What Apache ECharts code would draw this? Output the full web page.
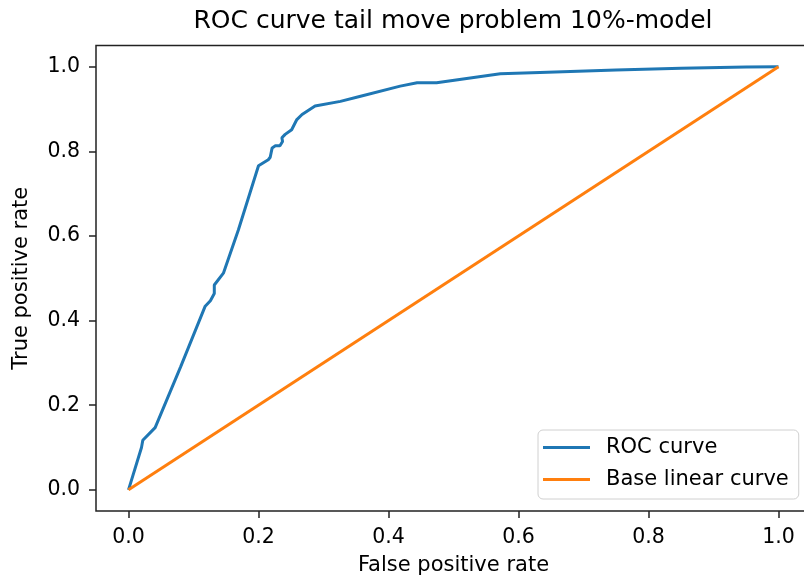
<!DOCTYPE html>
<html>
<head>
<meta charset="utf-8">
<script src="https://cdn.jsdelivr.net/npm/echarts@6/dist/echarts.min.js"></script>
<style>
  html, body { margin: 0; padding: 0; background: #fff; }
  #chart { width: 804px; height: 583px; }
</style>
</head>
<body>
<div id="chart"></div>
<script>
// values
const tickValues = [0, 0.2, 0.4, 0.6, 0.8, 1.0];

const rocFpr = [0, 0.02, 0.022, 0.041, 0.08, 0.118, 0.126, 0.132, 0.132, 0.146, 0.169,
  0.2, 0.215, 0.218, 0.221, 0.226, 0.233, 0.237, 0.236, 0.241, 0.251, 0.259, 0.267,
  0.287, 0.326, 0.354, 0.418, 0.444, 0.474, 0.572, 0.633, 0.75, 0.85, 0.95, 1.0];
const rocTpr = [0, 0.1, 0.117, 0.147, 0.29, 0.434, 0.447, 0.464, 0.484, 0.512, 0.614,
  0.766, 0.78, 0.786, 0.808, 0.813, 0.813, 0.823, 0.832, 0.84, 0.851, 0.875, 0.887,
  0.907, 0.918, 0.929, 0.954, 0.962, 0.962, 0.983, 0.986, 0.992, 0.996, 0.999, 1.0];

const baseFpr = [0, 1];
const baseTpr = [0, 1];

const font = 'DejaVu Sans';

function zip(xs, ys) {
  return xs.map((x, i) => [x, ys[i]]);
}

const chart = echarts.init(document.getElementById('chart'));

const axisCommon = {
  type: 'value',
  min: -0.05,
  max: 1.05,
  nameLocation: 'middle',
  nameTextStyle: { fontFamily: font, fontSize: 21, color: '#000' },
  axisLine: { show: false, onZero: false },
  splitLine: { show: false },
  axisTick: {
    show: true,
    inside: false,
    length: 7,
    customValues: tickValues,
    lineStyle: { color: '#222', width: 1.5 }
  },
  axisLabel: {
    customValues: tickValues,
    fontFamily: font,
    fontSize: 20.5,
    color: '#000',
    margin: 16,
    formatter: v => v.toFixed(1)
  }
};

chart.setOption({
  animation: false,
  backgroundColor: '#fff',
  title: {
    text: 'ROC curve tail move problem 10%-model',
    left: 453,
    textAlign: 'center',
    top: 9,
    padding: 0,
    textStyle: { fontFamily: font, fontSize: 25, fontWeight: 'normal', color: '#000' }
  },
  grid: {
    left: 96,
    top: 45.5,
    width: 715,
    height: 465.5,
    outerBoundsMode: 'none',
    show: true,
    borderColor: '#222',
    borderWidth: 1.5,
    backgroundColor: 'transparent'
  },
  legend: {
    orient: 'vertical',
    left: 538,
    top: 430,
    padding: [7, 10, 9, 5],
    itemGap: 11,
    itemWidth: 47,
    itemHeight: 3,
    icon: 'rect',
    backgroundColor: 'rgba(255,255,255,0.8)',
    borderColor: '#d0d0d0',
    borderWidth: 1,
    borderRadius: 5,
    textStyle: {
      fontFamily: font,
      fontSize: 21,
      color: '#000',
      lineHeight: 21,
      padding: [0, 0, 0, 11]
    },
    data: ['ROC curve', 'Base linear curve']
  },
  xAxis: Object.assign({}, axisCommon, {
    name: 'False positive rate',
    nameGap: 44
  }),
  yAxis: Object.assign({}, axisCommon, {
    name: 'True positive rate',
    nameGap: 64
  }),
  series: [
    {
      name: 'ROC curve',
      type: 'line',
      data: zip(rocFpr, rocTpr),
      symbol: 'none',
      color: '#1f77b4',
      lineStyle: { color: '#1f77b4', width: 3 }
    },
    {
      name: 'Base linear curve',
      type: 'line',
      data: zip(baseFpr, baseTpr),
      symbol: 'none',
      color: '#ff7f0e',
      lineStyle: { color: '#ff7f0e', width: 3 }
    }
  ]
});
</script>
</body>
</html>
